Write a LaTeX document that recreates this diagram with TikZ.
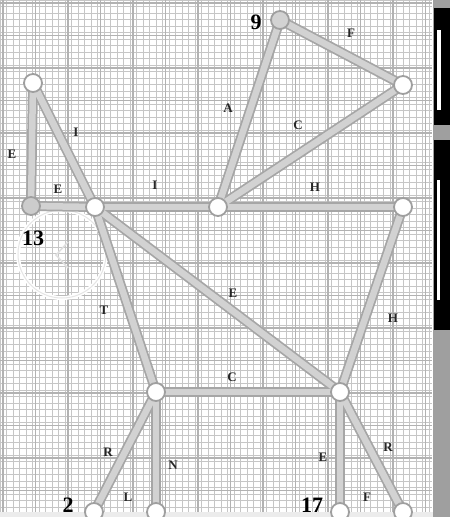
\documentclass[tikz,border=0pt]{standalone}
\usepackage{fontspec}
\setmainfont{Liberation Serif}
\begin{document}
\begin{tikzpicture}[x=1pt,y=-1pt,
  vtx/.style={circle,draw=gray!75,line width=1.8pt,fill=white,minimum size=18pt,inner sep=0pt},
  bar/.style={draw=gray!70,line width=10pt},
  barin/.style={draw=gray!35,line width=6.5pt},
  lab/.style={font=\bfseries\fontsize{13}{13}\selectfont,text=black!85,inner sep=0pt},
  big/.style={font=\bfseries\fontsize{22}{22}\selectfont,text=black,inner sep=0pt}]
\useasboundingbox (0,0) rectangle (450,517);
\fill[white] (0,0) rectangle (450,517);
% grid
\foreach \i in {0,...,66}{
  \draw[gray!45,line width=0.7pt] ({\i*6.5},0) -- ({\i*6.5},512);
}
\foreach \j in {0,...,78}{
  \draw[gray!45,line width=0.7pt] (0,{\j*6.5}) -- (432,{\j*6.5});
}
\foreach \i in {0,...,13}{
  \draw[gray!60,line width=1.3pt] ({\i*32.5+3},0) -- ({\i*32.5+3},512);
}
\foreach \j in {0,...,15}{
  \draw[gray!60,line width=1.3pt] (0,{\j*32.5+3}) -- (432,{\j*32.5+3});
}
% right dark strip
\fill[gray!75] (433,0) rectangle (450,517);
\fill[black] (434,8) rectangle (450,125);
\fill[black] (434,140) rectangle (450,330);
\fill[white] (437,30) rectangle (441,110);
\fill[white] (437,180) rectangle (440,300);
% bottom strip
\fill[gray!15] (0,512) rectangle (433,517);
% faint circle
\draw[white,line width=4pt] (62,254) circle[radius=44];
\draw[gray!20,line width=1pt] (62,254) circle[radius=44];
\draw[gray!25,line width=1.5pt] (68,242) -- (56,255) -- (68,268);
% vertices
\coordinate (p9) at (280,20);
\coordinate (ptr) at (403,85);
\coordinate (ptl) at (33,83);
\coordinate (p13) at (31,206);
\coordinate (pa) at (95,207);
\coordinate (pb) at (218,207);
\coordinate (pc) at (403,207);
\coordinate (pd) at (156,392);
\coordinate (pe) at (340,392);
\coordinate (pb1) at (94,512);
\coordinate (pb2) at (156,512);
\coordinate (pb3) at (340,512);
\coordinate (pb4) at (403,512);
% bars
\foreach \u/\v in {p9/ptr,p9/pb,ptr/pb,ptl/p13,ptl/pa,p13/pa,pa/pb,pb/pc,pa/pe,pa/pd,pc/pe,pd/pe,pd/pb1,pd/pb2,pe/pb3,pe/pb4}{
  \draw[bar] (\u) -- (\v);
}
\foreach \u/\v in {p9/ptr,p9/pb,ptr/pb,ptl/p13,ptl/pa,p13/pa,pa/pb,pb/pc,pa/pe,pa/pd,pc/pe,pd/pe,pd/pb1,pd/pb2,pe/pb3,pe/pb4}{
  \draw[barin] (\u) -- (\v);
}
% nodes
\node[vtx,fill=gray!35] (n9) at (p9) {};
\node[vtx] (ntr) at (ptr) {};
\node[vtx] (ntl) at (ptl) {};
\node[vtx,fill=gray!40] (n13) at (p13) {};
\node[vtx] (na) at (pa) {};
\node[vtx] (nb) at (pb) {};
\node[vtx] (nc) at (pc) {};
\node[vtx] (nd) at (pd) {};
\node[vtx] (ne) at (pe) {};
\node[vtx] (nb1) at (pb1) {};
\node[vtx] (nb2) at (pb2) {};
\node[vtx] (nb3) at (pb3) {};
\node[vtx] (nb4) at (pb4) {};
% big numbers
\node[big] (t9) at (256,22) {9};
\node[big] (t13) at (33,238) {13};
\node[big] (t2) at (68,505) {2};
\node[big] (t17) at (312,505) {17};
% edge labels
\node[lab] (lF1) at (351,33) {F};
\node[lab] (lA) at (228,108) {A};
\node[lab] (lC1) at (298,125) {C};
\node[lab] (lE1) at (12,154) {E};
\node[lab] (lI1) at (76,132) {I};
\node[lab] (lE2) at (58,189) {E};
\node[lab] (lI2) at (155,185) {I};
\node[lab] (lH1) at (315,187) {H};
\node[lab] (lE3) at (233,293) {E};
\node[lab] (lT) at (104,310) {T};
\node[lab] (lH2) at (393,318) {H};
\node[lab] (lC2) at (232,377) {C};
\node[lab] (lR1) at (108,452) {R};
\node[lab] (lN) at (173,465) {N};
\node[lab] (lL) at (128,497) {L};
\node[lab] (lE4) at (323,457) {E};
\node[lab] (lR2) at (388,447) {R};
\node[lab] (lF2) at (367,497) {F};
\end{tikzpicture}
\end{document}
